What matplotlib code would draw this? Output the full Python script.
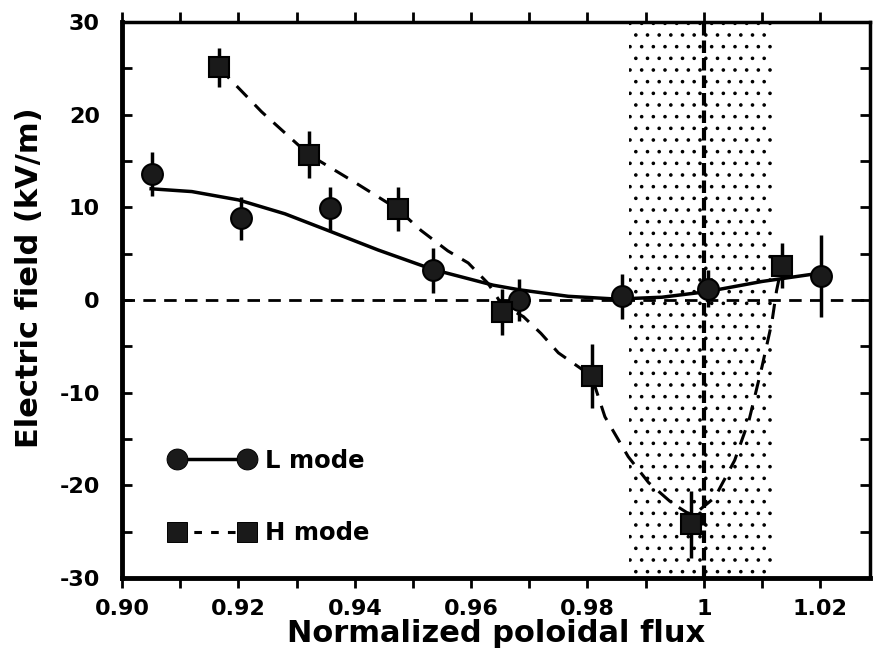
import numpy as np
import matplotlib
matplotlib.use('Agg')
import matplotlib.pyplot as plt
from matplotlib.lines import Line2D
from matplotlib.ticker import MultipleLocator, FixedLocator

# figure drawn at 70 dpi so the dotted hatch comes out at the scan's density;
# every size in points is scaled by k to keep the 100-dpi look
DPI = 70
k = 100 / DPI

plt.rcParams['font.family'] = ['DejaVu Sans']
plt.rcParams['font.weight'] = 'bold'
plt.rcParams['hatch.linewidth'] = 0.9 * k
plt.rcParams['axes.unicode_minus'] = False

# L mode measurements
l_x = [0.9052, 0.9205, 0.9357, 0.9534, 0.9683, 0.9859, 1.0007, 1.0202]
l_y = [13.6, 8.8, 9.9, 3.2, 0.0, 0.4, 1.2, 2.6]
l_err = [2.4, 2.3, 2.3, 2.4, 2.3, 2.4, 2.0, 4.4]

# L mode fit curve
l_fit_x = [0.905, 0.912, 0.920, 0.928, 0.935, 0.944, 0.9534, 0.9638, 0.9683,
           0.9767, 0.985, 0.9928, 1.0005, 1.010, 1.020]
l_fit_y = [12.0, 11.7, 10.8, 9.3, 7.6, 5.4, 3.3, 1.6, 1.1, 0.4, 0.1, 0.3, 0.9, 2.0, 2.9]

# H mode measurements
h_x = [0.9166, 0.9321, 0.9474, 0.9653, 0.9807, 0.9978, 1.0134]
h_y = [25.1, 15.7, 9.8, -1.3, -8.2, -24.2, 3.7]
h_err = [2.1, 2.5, 2.4, 2.5, 3.5, 3.6, 2.4]

# H mode fit curve
h_fit_x = [0.9166, 0.9240, 0.9321, 0.9400, 0.9474, 0.9514, 0.9560, 0.9595, 0.9629,
           0.9653, 0.9690, 0.9720, 0.9750, 0.9807, 0.9830, 0.9870, 0.9905, 0.9945,
           0.9980, 1.0019, 1.0053, 1.0078, 1.0100, 1.0117, 1.0125, 1.0134]
h_fit_y = [25.1, 20.3, 15.7, 12.7, 9.8, 7.5, 5.3, 4.0, 1.8, -0.5, -1.8, -3.6, -5.7,
           -8.2, -12.6, -16.9, -19.7, -21.9, -23.3, -21.3, -17.3, -12.9, -7.2,
           -2.4, 1.0, 3.7]

band = (0.9872, 1.0121)
separatrix = 1.0

xticks = [0.90, 0.92, 0.94, 0.96, 0.98, 1.00, 1.02]
xlabels = ['0.90', '0.92', '0.94', '0.96', '0.98', '1', '1.02']
yticks = [-30, -20, -10, 0, 10, 20, 30]

fig = plt.figure(figsize=(873 / DPI, 660 / DPI), dpi=DPI)
ax = fig.add_axes([0.1398, 0.1242, 0.857, 0.8425])

ax.axvspan(band[0], band[1], facecolor='none', edgecolor='black', hatch='.', linewidth=0)
ax.axhline(0, color='black', lw=2 * k, ls=(0, (4.5, 3)))
ax.axvline(separatrix, color='black', lw=3 * k, ls=(0, (3, 1.2)))

ax.errorbar(l_x, l_y, yerr=l_err, fmt='none', ecolor='black', elinewidth=2.5 * k, capsize=0)
ax.errorbar(h_x, h_y, yerr=h_err, fmt='none', ecolor='black', elinewidth=2.5 * k, capsize=0)
ax.plot(l_fit_x, l_fit_y, color='black', lw=2.5 * k)
ax.plot(h_fit_x, h_fit_y, color='black', lw=2.2 * k, ls=(0, (5, 3.5)))
ax.plot(l_x, l_y, 'o', ms=15 * k, mfc='#1a1a1a', mec='black', mew=1.5 * k)
ax.plot(h_x, h_y, 's', ms=14 * k, mfc='#1a1a1a', mec='black', mew=1.5 * k)

handles = [Line2D([], [], color='black', lw=2.5 * k, marker='o', ms=15 * k, mfc='#1a1a1a'),
           Line2D([], [], color='black', lw=2.2 * k, ls=(0, (2.5, 3)), marker='s', ms=14 * k,
                  mfc='#1a1a1a')]
ax.legend(handles, ['L mode', 'H mode'], loc='center left', bbox_to_anchor=(0.047, 0.146),
          frameon=False, numpoints=2, handlelength=3.5, labelspacing=2.0,
          handletextpad=0.45, borderpad=0, prop={'weight': 'bold', 'size': 17.5 * k})

ax.set_xlim(0.90, 1.0286)
ax.set_ylim(-30, 30)
ax.xaxis.set_major_locator(FixedLocator(xticks))
ax.set_xticklabels(xlabels)
ax.xaxis.set_minor_locator(MultipleLocator(0.01))
ax.set_yticks(yticks)
ax.yaxis.set_minor_locator(MultipleLocator(5))
ax.tick_params(axis='both', which='both', direction='in', top=True, right=True,
               labelsize=16 * k, width=2 * k, length=7 * k)
ax.tick_params(axis='x', which='both', direction='out', pad=8 * k)
ax.tick_params(axis='y', which='both', pad=16 * k)
for label in ax.get_xticklabels() + ax.get_yticklabels():
    label.set_fontweight('bold')
for side in ['left', 'bottom']:
    ax.spines[side].set_linewidth(3.5 * k)
for side in ['top', 'right']:
    ax.spines[side].set_linewidth(2.5 * k)

ax.set_xlabel('Normalized poloidal flux', fontsize=22 * k, fontweight='bold', labelpad=0)
ax.set_ylabel('Electric field (kV/m)', fontsize=22 * k, fontweight='bold')
ax.yaxis.set_label_coords(-0.104, 0.54)

fig.savefig('out.png', dpi=DPI)
